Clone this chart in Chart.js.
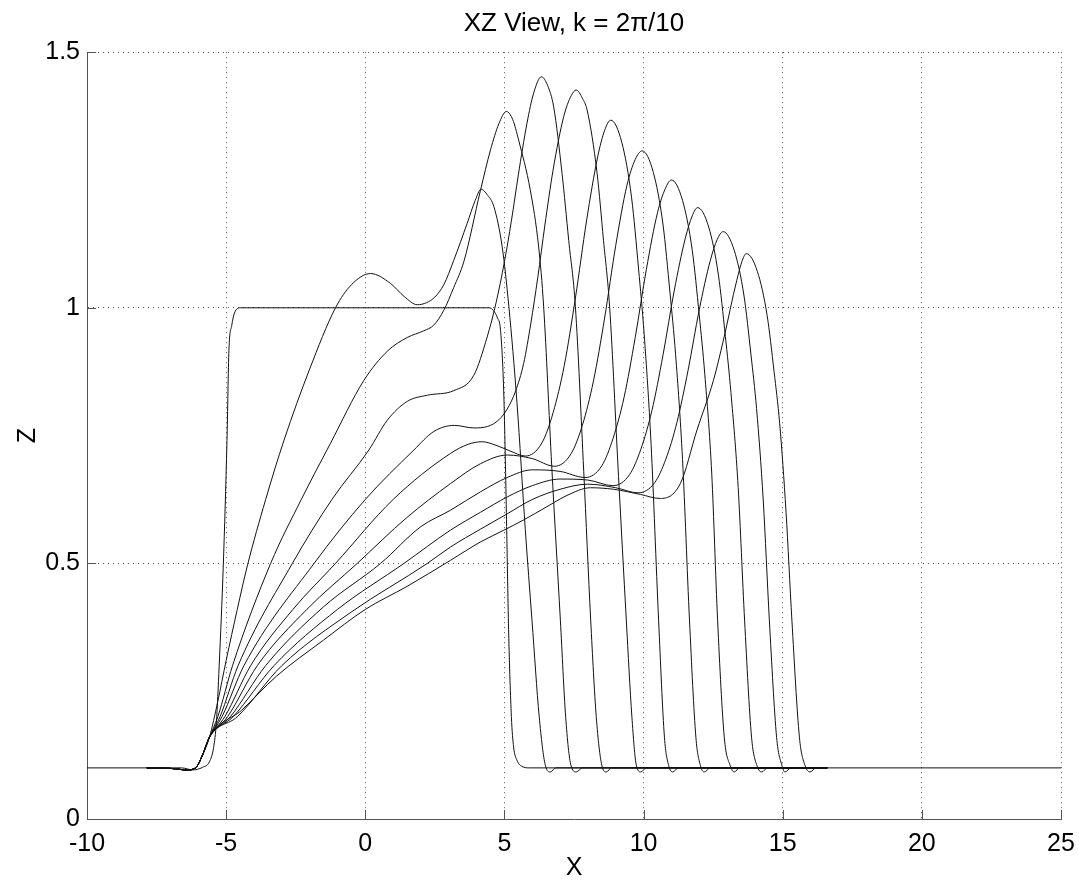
<!DOCTYPE html>
<html>
<head>
<meta charset="utf-8">
<script src="https://cdn.jsdelivr.net/npm/chart.js@4"></script>
<style>
  html, body { margin: 0; padding: 0; background: #fff; }
  #chart { display: block; }
</style>
</head>
<body>
<canvas id="chart" width="1079" height="886"></canvas>
<script>
// axis ticks
const xTicks = [-10, -5, 0, 5, 10, 15, 20, 25];
const xTickLabels = ['-10', '-5', '0', '5', '10', '15', '20', '25'];
const yTicks = [0, 0.5, 1, 1.5];
const yTickLabels = ['0', '0.5', '1', '1.5'];

// initial square pulse
const pulseX = [-10, -6.6, -6.2, -5.85, -5.6, -5.45, -5.35, -5.25, -5.1, -4.97, -4.9, -4.8, -4.7, -4.48, 4.45, 4.6, 4.75, 4.86, 4.98, 5.07, 5.15, 5.25, 5.33, 5.45, 5.63, 5.9, 25];
const pulseZ = [0.1, 0.1, 0.096, 0.101, 0.112, 0.14, 0.19, 0.3, 0.5, 0.74, 0.917, 0.965, 0.99, 1.0, 1.0, 0.995, 0.98, 0.956, 0.826, 0.6, 0.37, 0.2, 0.141, 0.115, 0.103, 0.1, 0.1];

// later profiles
const c1X = [-7.85, -7.0, -6.4, -6.1, -5.85, -5.6, -5.3, -5.0, -4.6, -4.24, -3.58, -2.92, -2.0, -1.07, -0.5, 0.19, 0.9, 1.4, 1.87, 2.2, 2.5, 2.82, 3.18, 3.66, 3.95, 4.16, 4.4, 4.62, 4.92, 5.16, 5.45, 5.75, 5.99, 6.25, 6.47, 6.65, 6.85, 16.6];
const c1Z = [0.1, 0.099, 0.096, 0.1, 0.125, 0.16, 0.23, 0.31, 0.41, 0.495, 0.625, 0.741, 0.88, 1.0, 1.045, 1.067, 1.048, 1.022, 1.006, 1.01, 1.021, 1.045, 1.093, 1.165, 1.21, 1.232, 1.22, 1.198, 1.119, 1.002, 0.815, 0.566, 0.389, 0.2, 0.105, 0.092, 0.1, 0.1];

const c2X = [-7.85, -7.0, -6.4, -6.1, -5.85, -5.6, -5.3, -4.77, -3.4, -2.3, -1.25, -0.05, 0.79, 1.51, 2.1, 2.46, 2.82, 3.18, 3.54, 4.14, 4.5, 4.8, 5.07, 5.3, 5.51, 5.93, 6.23, 6.41, 6.7, 7.01, 7.2, 7.39, 7.58, 7.8, 16.6];
const c2Z = [0.1, 0.099, 0.096, 0.1, 0.125, 0.16, 0.2, 0.3, 0.5, 0.625, 0.735, 0.858, 0.915, 0.942, 0.955, 0.966, 0.995, 1.04, 1.09, 1.23, 1.309, 1.36, 1.384, 1.368, 1.328, 1.23, 1.119, 1.002, 0.69, 0.389, 0.2, 0.105, 0.092, 0.1, 0.1];

const c3X = [-7.85, -7.0, -6.4, -6.1, -5.85, -5.6, -5.22, -4.57, -2.62, -1.2, 0.13, 0.79, 1.51, 2.23, 3.18, 3.9, 4.38, 4.7, 5.0, 5.25, 5.5, 5.81, 6.05, 6.33, 6.55, 6.77, 7.07, 7.31, 7.55, 7.85, 8.1, 8.3, 8.5, 8.66, 8.85, 16.6];
const c3Z = [0.1, 0.099, 0.096, 0.1, 0.125, 0.16, 0.2, 0.3, 0.5, 0.625, 0.722, 0.78, 0.817, 0.829, 0.838, 0.868, 0.943, 1.01, 1.09, 1.17, 1.26, 1.361, 1.42, 1.452, 1.435, 1.393, 1.263, 1.132, 1.002, 0.68, 0.389, 0.2, 0.105, 0.092, 0.1, 0.1];

const c4X = [-7.85, -7.0, -6.4, -6.1, -5.85, -5.6, -5.15, -4.36, -1.84, 0, 1.75, 2.46, 3.2, 3.9, 4.4, 4.8, 5.1, 5.4, 5.69, 5.95, 6.2, 6.45, 6.75, 7.13, 7.4, 7.58, 7.8, 7.97, 8.33, 8.56, 8.78, 9.1, 9.38, 9.58, 9.74, 9.9, 10.1, 16.6];
const c4Z = [0.1, 0.099, 0.096, 0.1, 0.125, 0.16, 0.2, 0.3, 0.5, 0.625, 0.722, 0.758, 0.77, 0.765, 0.768, 0.781, 0.802, 0.837, 0.891, 0.97, 1.06, 1.16, 1.27, 1.374, 1.415, 1.426, 1.41, 1.387, 1.263, 1.132, 1.002, 0.67, 0.389, 0.2, 0.105, 0.092, 0.1, 0.1];

const c5X = [-7.85, -7.0, -6.4, -6.1, -5.85, -5.6, -5.05, -4.12, -2.6, -1.07, 1.0, 3.06, 3.7, 4.2, 4.7, 5.2, 5.75, 6.35, 6.75, 7.15, 7.55, 7.95, 8.35, 8.6, 8.82, 9.22, 9.57, 9.82, 10.02, 10.27, 10.54, 10.75, 10.9, 11.05, 11.25, 16.6];
const c5Z = [0.1, 0.099, 0.096, 0.1, 0.125, 0.16, 0.2, 0.3, 0.41, 0.5, 0.625, 0.715, 0.733, 0.738, 0.731, 0.72, 0.71, 0.736, 0.795, 0.887, 1.019, 1.17, 1.295, 1.347, 1.367, 1.323, 1.215, 1.076, 0.949, 0.733, 0.389, 0.16, 0.105, 0.092, 0.1, 0.1];

const c6X = [-7.85, -7.0, -6.4, -6.1, -5.85, -5.6, -4.95, -3.88, -2.1, -0.29, 1.5, 3.06, 4.14, 5.1, 6.0, 6.8, 7.4, 7.8, 8.2, 8.6, 9.0, 9.4, 9.7, 9.95, 10.35, 10.7, 10.95, 11.15, 11.4, 11.65, 11.88, 12.04, 12.18, 12.4, 16.6];
const c6Z = [0.1, 0.099, 0.096, 0.1, 0.125, 0.16, 0.2, 0.3, 0.41, 0.5, 0.59, 0.656, 0.695, 0.712, 0.705, 0.69, 0.715, 0.77, 0.857, 0.98, 1.122, 1.239, 1.29, 1.307, 1.265, 1.162, 1.029, 0.909, 0.703, 0.389, 0.16, 0.105, 0.092, 0.1, 0.1];

const c7X = [-7.85, -7.0, -6.4, -6.1, -5.85, -5.6, -4.85, -3.58, -1.5, 0.55, 2.0, 3.06, 4.14, 5.1, 6.0, 7.0, 7.9, 8.5, 8.9, 9.3, 9.7, 10.1, 10.5, 10.78, 11.0, 11.4, 11.75, 12.0, 12.2, 12.45, 12.66, 12.9, 13.11, 13.26, 13.45, 16.6];
const c7Z = [0.1, 0.099, 0.096, 0.1, 0.125, 0.16, 0.2, 0.3, 0.415, 0.5, 0.572, 0.604, 0.64, 0.668, 0.683, 0.68, 0.668, 0.691, 0.744, 0.825, 0.942, 1.075, 1.186, 1.233, 1.25, 1.21, 1.112, 0.986, 0.87, 0.675, 0.389, 0.16, 0.105, 0.092, 0.1, 0.1];

const c8X = [-7.85, -7.0, -6.4, -6.1, -5.85, -5.6, -4.75, -3.28, -1.0, 1.39, 3.06, 4.14, 5.1, 6.0, 7.0, 8.0, 8.9, 9.5, 9.9, 10.3, 10.7, 11.1, 11.5, 11.75, 11.94, 12.34, 12.69, 12.94, 13.14, 13.4, 13.63, 13.88, 14.07, 14.25, 14.45, 16.6];
const c8Z = [0.1, 0.099, 0.096, 0.1, 0.125, 0.16, 0.2, 0.3, 0.41, 0.5, 0.565, 0.6, 0.63, 0.652, 0.665, 0.663, 0.652, 0.674, 0.723, 0.799, 0.908, 1.033, 1.136, 1.18, 1.196, 1.158, 1.064, 0.944, 0.834, 0.648, 0.389, 0.16, 0.105, 0.092, 0.1, 0.1];

const c9X = [-7.85, -7.0, -6.4, -6.1, -5.85, -5.6, -4.6, -3.0, -0.5, 2.23, 3.06, 4.14, 5.1, 6.0, 7.0, 8.0, 9.0, 9.8, 10.4, 10.8, 11.2, 11.6, 12.0, 12.4, 12.65, 12.86, 13.26, 13.61, 13.86, 14.06, 14.3, 14.52, 14.78, 14.97, 15.08, 15.3, 16.6];
const c9Z = [0.1, 0.099, 0.096, 0.1, 0.125, 0.16, 0.2, 0.3, 0.405, 0.5, 0.532, 0.567, 0.597, 0.625, 0.645, 0.655, 0.648, 0.638, 0.658, 0.704, 0.776, 0.878, 0.996, 1.093, 1.134, 1.149, 1.112, 1.023, 0.908, 0.803, 0.624, 0.389, 0.16, 0.105, 0.092, 0.1, 0.1];

const c10X = [-7.85, -7.0, -6.4, -6.1, -5.85, -5.6, -4.44, -3.2, -1.5, 0, 1.5, 3.06, 4.14, 4.98, 5.69, 6.53, 7.25, 8.09, 8.92, 9.88, 10.6, 11.32, 11.92, 12.51, 12.87, 13.35, 13.55, 13.69, 14.09, 14.44, 14.69, 14.89, 15.12, 15.33, 15.6, 15.8, 15.98, 16.2, 16.6];
const c10Z = [0.1, 0.099, 0.096, 0.1, 0.125, 0.16, 0.213, 0.279, 0.35, 0.41, 0.455, 0.506, 0.542, 0.565, 0.585, 0.611, 0.633, 0.648, 0.645, 0.635, 0.627, 0.656, 0.761, 0.858, 0.937, 1.054, 1.093, 1.106, 1.071, 0.985, 0.875, 0.774, 0.6, 0.389, 0.16, 0.105, 0.092, 0.1, 0.1];

const FONT = '"Liberation Sans", Arial, Helvetica, sans-serif';

function toPoints(xs, zs) {
  return xs.map((x, i) => ({ x: x, y: zs[i] }));
}

const profiles = [
  [pulseX, pulseZ], [c1X, c1Z], [c2X, c2Z], [c3X, c3Z], [c4X, c4Z], [c5X, c5Z],
  [c6X, c6Z], [c7X, c7Z], [c8X, c8Z], [c9X, c9Z], [c10X, c10Z]
];

const datasets = profiles.map(function (p) {
  return {
    data: toPoints(p[0], p[1]),
    showLine: true,
    borderColor: '#111',
    borderWidth: 1,
    pointRadius: 0,
    fill: false,
    cubicInterpolationMode: 'monotone'
  };
});

// MATLAB style tick marks pointing into the axes
const inwardTicks = {
  id: 'inwardTicks',
  afterDraw(chart) {
    const { ctx, chartArea, scales } = chart;
    ctx.save();
    ctx.strokeStyle = '#555';
    ctx.lineWidth = 1;
    ctx.beginPath();
    xTicks.forEach(function (v) {
      const px = Math.round(scales.x.getPixelForValue(v)) + 0.5;
      ctx.moveTo(px, chartArea.bottom);
      ctx.lineTo(px, chartArea.bottom - 9);
    });
    yTicks.forEach(function (v) {
      const py = Math.round(scales.y.getPixelForValue(v)) + 0.5;
      ctx.moveTo(chartArea.left, py);
      ctx.lineTo(chartArea.left + 9, py);
    });
    ctx.stroke();
    ctx.restore();
  }
};

new Chart(document.getElementById('chart').getContext('2d'), {
  type: 'scatter',
  data: { datasets: datasets },
  plugins: [inwardTicks],
  options: {
    responsive: false,
    devicePixelRatio: 1,
    animation: false,
    events: [],
    layout: { padding: { left: 0, right: 18, top: 0, bottom: 0 } },
    plugins: {
      legend: { display: false },
      tooltip: { enabled: false },
      title: {
        display: true,
        text: 'XZ View, k = 2\u03c0/10',
        fullSize: false,
        color: '#000',
        font: { family: FONT, size: 26, weight: 'normal' },
        padding: { top: 8, bottom: 13 }
      }
    },
    scales: {
      x: {
        type: 'linear',
        min: -10,
        max: 25,
        afterBuildTicks: function (scale) {
          scale.ticks = xTicks.map(function (v) { return { value: v }; });
        },
        afterFit: function (scale) {
          scale.height = 67;
          scale.paddingLeft = 0;
          scale.paddingRight = 0;
        },
        grid: { color: '#555', lineWidth: 1, drawTicks: false },
        border: { display: true, color: '#555', width: 1, dash: [1, 4] },
        ticks: {
          color: '#000',
          font: { family: FONT, size: 25 },
          padding: 10,
          autoSkip: false,
          maxRotation: 0,
          callback: function (value, index) { return xTickLabels[index]; }
        },
        title: {
          display: true,
          text: 'X',
          color: '#000',
          font: { family: FONT, size: 25 },
          padding: { top: 0, bottom: 3 }
        }
      },
      y: {
        type: 'linear',
        min: 0,
        max: 1.5,
        afterBuildTicks: function (scale) {
          scale.ticks = yTicks.map(function (v) { return { value: v }; });
        },
        afterFit: function (scale) {
          scale.width = 87;
          scale.paddingTop = 0;
          scale.paddingBottom = 0;
        },
        grid: { color: '#555', lineWidth: 1, drawTicks: false },
        border: { display: true, color: '#555', width: 1, dash: [1, 4] },
        ticks: {
          color: '#000',
          font: { family: FONT, size: 25 },
          padding: 7,
          autoSkip: false,
          callback: function (value, index) { return yTickLabels[index]; }
        },
        title: {
          display: true,
          text: 'Z',
          color: '#000',
          font: { family: FONT, size: 25 },
          padding: { top: 13, bottom: 0 }
        }
      }
    }
  }
});
</script>
</body>
</html>
